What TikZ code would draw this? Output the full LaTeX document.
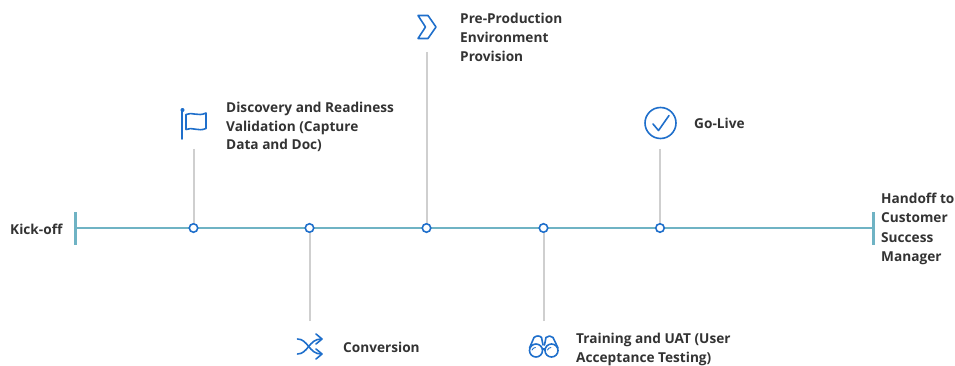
\documentclass[tikz,border=0pt]{standalone}
\usepackage{fontspec}
\setmainfont{Open Sans}
\definecolor{teal1}{HTML}{6FB3C4}
\definecolor{blue1}{HTML}{1F6FCB}
\definecolor{gray1}{HTML}{CFCFCF}
\definecolor{ink}{HTML}{333333}
\tikzset{
  lab/.style={font=\fontsize{13.65}{18.8}\selectfont\bfseries, text=ink, align=left, anchor=west, inner sep=0pt},
  labwide/.style={lab, font=\fontsize{13.65}{19.4}\selectfont\bfseries},
  dot/.style={circle, draw=blue1, fill=white, line width=1.6pt, minimum size=8.5pt, inner sep=0pt},
  stem/.style={draw=gray1, line width=2pt},
  bar/.style={draw=teal1, line width=3pt},
  axis/.style={draw=teal1, line width=1.9pt},
  ico/.style={draw=blue1, line width=1.6pt, line join=round, line cap=round},
}
\begin{document}
\begin{tikzpicture}[x=1pt,y=-1pt]
\useasboundingbox (0,0) rectangle (955,366);
\coordinate (ks) at (75,212);
\coordinate (ke) at (75,245);
\coordinate (hs) at (873,212);
\coordinate (he) at (873,245);
\coordinate (kc) at (75,228);
\coordinate (hc) at (873,228);
\coordinate (t1) at (193.5,149);
\coordinate (t2) at (309.5,321);
\coordinate (t3) at (426.5,52);
\coordinate (t4) at (543.5,321);
\coordinate (t5) at (660,149);
\draw[bar] (ks) -- (ke);
\draw[bar] (hs) -- (he);
\draw[axis] (kc) -- (hc);
\node[dot] (d1) at (193.5,228) {};
\node[dot] (d2) at (309.5,228) {};
\node[dot] (d3) at (426.5,228) {};
\node[dot] (d4) at (543.5,228) {};
\node[dot] (d5) at (660,228) {};
\draw[stem] (t1) -- (d1);
\draw[stem] (t2) -- (d2);
\draw[stem] (t3) -- (d3);
\draw[stem] (t4) -- (d4);
\draw[stem] (t5) -- (d5);
\node[lab] (kick) at (10,229) {Kick-off};
\node[lab] (disc) at (226,127) {Discovery and Readiness\\Validation (Capture\\Data and Doc)};
\node[lab] (pre) at (460,37.5) {Pre-Production\\Environment\\Provision};
\node[lab] (golive) at (694,123.5) {Go-Live};
\node[lab] (conv) at (343,347) {Conversion};
\node[lab] (train) at (576,349.5) {Training and UAT (User\\Acceptance Testing)};
\node[labwide] (hand) at (881,229) {Handoff to\\Customer\\Success\\Manager};
% flag icon
\draw[ico] (182,111) -- (182,139);
\draw[ico, fill=white] (182.5,110) circle (1.4);
\draw[ico] (186,114.5) .. controls (192,111.5) and (198,117) .. (206,113) -- (206,128.5) .. controls (198,132) and (192,126.5) .. (186,129.5) -- cycle;
% chevron icon
\draw[ico] (418,15.5) -- (428,15.5) -- (436,27) -- (428,38.5) -- (418,38.5) -- (425.5,27) -- cycle;
% check icon
\draw[ico] (660.5,123) circle (15.5);
\draw[ico] (653,124) -- (658.5,130.5) -- (669,115.5);
% shuffle icon
\draw[ico] (297.5,339) .. controls (308,339) and (309,354) .. (321,354);
\draw[ico] (297.5,354) .. controls (308,354) and (309,339) .. (321,339);
\draw[ico] (316,334) -- (322,339) -- (316,344);
\draw[ico] (316,349) -- (322,354) -- (316,359);
% binoculars icon
\draw[ico] (534,337.5) -- (529.5,348) (541.5,337.5) -- (543,345);
\draw[ico] (534,337.5) .. controls (536,335.5) and (540,335.5) .. (541.5,337.5);
\draw[ico] (553,337.5) -- (558,348) (546,337.5) -- (544.5,345);
\draw[ico] (546,337.5) .. controls (548,335.5) and (551,335.5) .. (553,337.5);
\draw[ico] (536,350.5) circle (6.5);
\draw[ico] (551.5,350.5) circle (6.5);
\draw[ico] (542.5,349) -- (545,349);
\draw[ico, line width=0.9pt] (532,350) .. controls (532.5,348.5) and (534,347.5) .. (535.5,347.5);
\draw[ico, line width=0.9pt] (547.5,350) .. controls (548,348.5) and (549.5,347.5) .. (551,347.5);
\end{tikzpicture}
\end{document}
